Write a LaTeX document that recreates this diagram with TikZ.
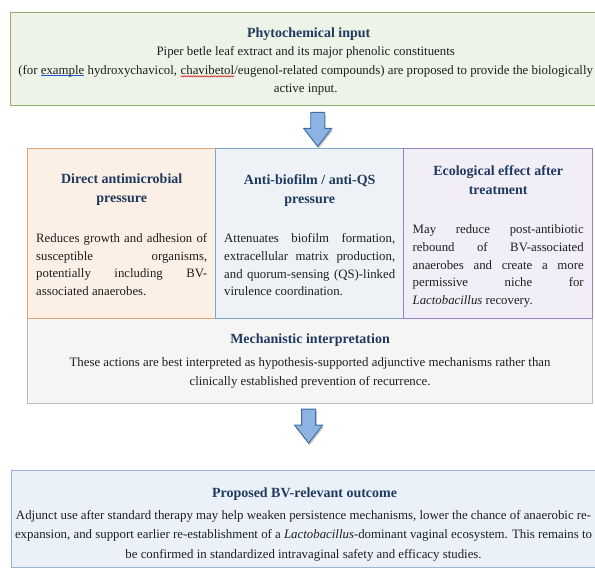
\documentclass[tikz,border=0pt]{standalone}
\usepackage{fontspec}
\setmainfont{Liberation Serif}
\usepackage{xcolor}
\usetikzlibrary{positioning,decorations.pathmorphing}

\definecolor{titleblue}{HTML}{1F3A5F}
\definecolor{bodygray}{HTML}{1E1E1E}
\definecolor{inputfill}{HTML}{EDF3E6}
\definecolor{inputdraw}{HTML}{8FAF6F}
\definecolor{directfill}{HTML}{FCEFE5}
\definecolor{directdraw}{HTML}{E4A26C}
\definecolor{biofilmfill}{HTML}{EEF2F7}
\definecolor{biofilmdraw}{HTML}{80A4C5}
\definecolor{ecofill}{HTML}{F2EEF8}
\definecolor{ecodraw}{HTML}{9E80CA}
\definecolor{mechfill}{HTML}{F5F5F5}
\definecolor{mechdraw}{HTML}{BDBDBD}
\definecolor{outcomefill}{HTML}{EBF1F8}
\definecolor{outcomedraw}{HTML}{97B4D6}
\definecolor{arrowfill}{HTML}{8DB3E2}
\definecolor{arrowdraw}{HTML}{3E6CA4}
\definecolor{underblue}{HTML}{2255DD}
\definecolor{spellred}{HTML}{DD2222}

% proofing marks as they show in the picture
\newcommand{\grammarmark}[1]{\setbox0\hbox{#1}\rlap{\textcolor{underblue}{\rule[-2.4pt]{\wd0}{1pt}}}#1}
\newcommand{\spellmark}[1]{\tikz[baseline=(sp.base)]{\node[inner sep=0pt,outer sep=0pt] (sp) {#1};
  \draw[spellred,line width=0.5pt,decorate,decoration={zigzag,amplitude=0.6pt,segment length=1.8pt}]
  ([yshift=-2.2pt]sp.base west) -- ([yshift=-2.2pt]sp.base east);}}

\tikzset{
  pics/downarrow/.style={code={
    \fill[black!25] (-6,2) -- (8,2) -- (8,18) -- (15,18) -- (1,36) -- (-13,18) -- (-6,18) -- cycle;
    \draw[arrowdraw,fill=arrowfill,line width=0.9pt,line join=miter]
      (-7,0) -- (7,0) -- (7,16) -- (14,16) -- (0,34) -- (-14,16) -- (-7,16) -- cycle;
  }}
}

\begin{document}
\begin{tikzpicture}[x=1pt,y=-1pt,
  panel/.style={draw=#1, line width=1.4pt, inner sep=0pt, anchor=north west},
  headtext/.style={font=\fontsize{14}{19}\selectfont\bfseries, text=titleblue, align=center, inner sep=0pt},
  bodytext/.style={font=\fontsize{12.85}{19.5}\selectfont, text=bodygray, align=center, inner sep=0pt},
  coltext/.style={font=\fontsize{12.8}{17.8}\selectfont, text=bodygray, text width=171pt, align=justify, inner sep=0pt},
]
\useasboundingbox (0,0) rectangle (595,571);

% input
\node[panel=inputdraw, fill=inputfill, minimum width=596pt, minimum height=93pt] (inputbox) at (10,12) {};
\node[headtext, below=16pt of inputbox.north] (inputtitle) {Phytochemical input};
\node[bodytext, font=\fontsize{12.85}{18.7}\selectfont, below=5pt of inputtitle, xshift=-3pt] (inputtext) {Piper betle leaf extract and its major phenolic constituents\\
  (for \grammarmark{example} hydroxychavicol, \spellmark{chavibetol}/eugenol-related compounds) are proposed to provide the biologically\\
  active input.};

\pic at ([xshift=9pt,yshift=-6pt]inputbox.south) {downarrow};

% mechanisms
\node[panel=mechdraw, fill=mechfill, line width=1.1pt, minimum width=565pt, minimum height=85pt] (mechbox) at (27,318) {};
\node[panel=directdraw, fill=directfill, minimum width=188pt, minimum height=170pt] (directbox) at (27,148) {};
\node[panel=biofilmdraw, fill=biofilmfill, minimum width=188pt, minimum height=170pt] (biofilmbox) at (215,148) {};
\node[panel=ecodraw, fill=ecofill, minimum width=189pt, minimum height=170pt] (ecobox) at (403,148) {};

\node[headtext, below=26pt of directbox.north] (directtitle) {Direct antimicrobial\\pressure};
\node[coltext, below=27pt of directtitle] (directtext) {Reduces growth and adhesion of\linebreak
  susceptible organisms,\linebreak potentially including BV-\linebreak associated anaerobes.};

\node[headtext, below=26pt of biofilmbox.north] (biofilmtitle) {Anti-biofilm / anti-QS\\pressure};
\node[coltext, below=27pt of biofilmtitle] (biofilmtext) {Attenuates biofilm formation,\linebreak
  extracellular matrix production,\linebreak and quorum-sensing (QS)-linked\linebreak virulence coordination.};

\node[headtext, below=17pt of ecobox.north] (ecotitle) {Ecological effect after\\treatment};
\node[coltext, below=30pt of ecotitle] (ecotext) {May reduce post-antibiotic\linebreak
  rebound of BV-associated\linebreak anaerobes and create a more\linebreak permissive niche for\linebreak
  \textit{Lactobacillus} recovery.};

\node[headtext, below=16pt of mechbox.north] (mechtitle) {Mechanistic interpretation};
\node[bodytext, below=10pt of mechtitle] (mechtext) {These actions are best interpreted as hypothesis-supported adjunctive mechanisms rather than\\
  clinically established prevention of recurrence.};

\pic at ([xshift=-1.5pt,yshift=-5pt]mechbox.south) {downarrow};

% outcome
\node[panel=outcomedraw, fill=outcomefill, line width=1.1pt, minimum width=592pt, minimum height=97pt] (outcomebox) at (11,470) {};
\node[headtext, below=18pt of outcomebox.north, xshift=-3pt] (outcometitle) {Proposed BV-relevant outcome};
\node[bodytext, below=9pt of outcometitle, xshift=-1pt] (outcometext) {Adjunct use after standard therapy may help weaken persistence mechanisms, lower the chance of anaerobic re-\\
  expansion, and support earlier re-establishment of a \textit{Lactobacillus}-dominant vaginal ecosystem. This remains to\\
  be confirmed in standardized intravaginal safety and efficacy studies.};
\end{tikzpicture}
\end{document}
